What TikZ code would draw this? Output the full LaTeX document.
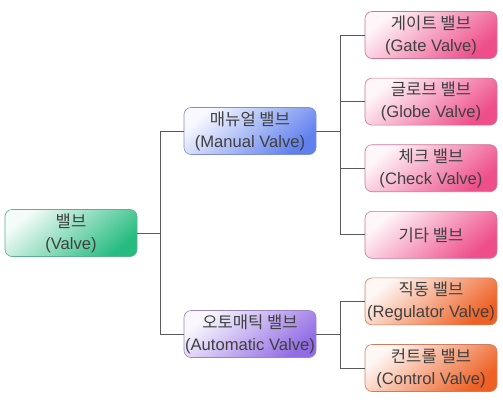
\documentclass[tikz,border=0pt]{standalone}
\usepackage{fontspec}
\setmainfont{Liberation Sans}
\newfontfamily\kr{Noto Sans CJK KR}
\usetikzlibrary{positioning}
\definecolor{vgreen}{RGB}{38,188,128}
\definecolor{vblue}{RGB}{96,128,238}
\definecolor{vpink}{RGB}{238,78,138}
\definecolor{vorange}{RGB}{238,96,36}
\definecolor{vpurple}{RGB}{146,108,228}
\definecolor{vtext}{RGB}{64,64,64}
\definecolor{vline}{RGB}{90,90,90}
\tikzset{
  box/.style={rounded corners=7pt, minimum width=132pt, minimum height=47pt,
              align=center, text=vtext, inner sep=1pt, line width=0.6pt,
              font=\fontsize{16.6}{22}\selectfont},
  tint/.style={box, draw=#1!75!black!70, top color=#1!5, bottom color=#1,
               shading angle=40},
  rootbox/.style={tint=vgreen},
  manbox/.style={tint=vblue},
  autobox/.style={tint=vpurple},
  kindbox/.style={tint=vpink},
  ctrlbox/.style={tint=vorange},
  link/.style={draw=vline, line width=0.7pt},
}
\begin{document}
\begin{tikzpicture}[x=1pt, y=1pt, node distance=19pt]
\useasboundingbox (0,0) rectangle (503,-402);
% main branches
\node[rootbox] (valve) at (71,-233) {{\kr 밸브}\\(Valve)};
\node[manbox] (manual) at (250,-131) {{\kr 매뉴얼 밸브}\\(Manual Valve)};
\node[autobox] (auto) at (250,-334) {{\kr 오토매틱 밸브}\\(Automatic Valve)};
% leaves
\node[kindbox] (gate) at (431,-35) {{\kr 게이트 밸브}\\(Gate Valve)};
\node[kindbox, below=of gate] (globe) {{\kr 글로브 밸브}\\(Globe Valve)};
\node[kindbox, below=of globe] (check) {{\kr 체크 밸브}\\(Check Valve)};
\node[kindbox, below=of check] (other) {{\kr 기타 밸브}};
\node[ctrlbox, below=of other] (regul) {{\kr 직동 밸브}\\(Regulator Valve)};
\node[ctrlbox, below=of regul] (control) {{\kr 컨트롤 밸브}\\(Control Valve)};
% connectors
\draw[link] (valve.east) -- ++(23,0) |- (manual.west);
\draw[link] (valve.east) -- ++(23,0) |- (auto.west);
\foreach \leaf in {gate,globe,check,other}
  \draw[link] (manual.east) -- ++(24,0) |- (\leaf.west);
\foreach \leaf in {regul,control}
  \draw[link] (auto.east) -- ++(24,0) |- (\leaf.west);
\end{tikzpicture}
\end{document}
